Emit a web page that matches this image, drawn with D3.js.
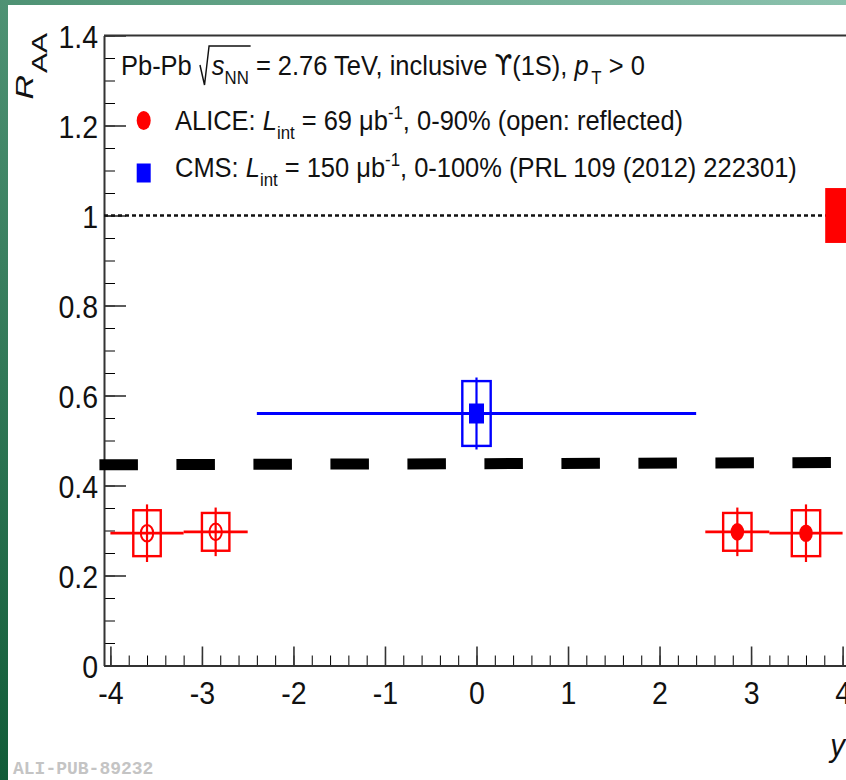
<!DOCTYPE html>
<html>
<head>
<meta charset="utf-8">
<script src="https://cdn.jsdelivr.net/npm/d3@7"></script>
<style>
  html, body { margin: 0; padding: 0; background: #fff; }
  svg { display: block; }
</style>
</head>
<body>
<svg id="chart" width="846" height="780"></svg>
<script>
// ---- values ----
var xTicks = [-4, -3, -2, -1, 0, 1, 2, 3, 4];
var xTickLabels = ["-4", "-3", "-2", "-1", "0", "1", "2", "3", "4"];
var yTicks = [0, 0.2, 0.4, 0.6, 0.8, 1, 1.2, 1.4];
var yTickLabels = ["0", "0.2", "0.4", "0.6", "0.8", "1", "1.2", "1.4"];

// ALICE, forward rapidity (drawn again mirrored at negative y, open markers)
var aliceY    = [2.85, 3.6];
var aliceYlo  = [2.5, 3.2];
var aliceYhi  = [3.2, 4.0];
var aliceRaa  = [0.297, 0.294];
var aliceStat = [0.054, 0.064];
var aliceSyst = [0.042, 0.051];

// CMS, |y| < 2.4
var cmsY    = [0];
var cmsYlo  = [-2.4];
var cmsYhi  = [2.4];
var cmsRaa  = [0.56];
var cmsStat = [0.08];
var cmsSyst = [0.072];

// global uncertainty box at unity and the thick dashed level
var globalUnc = 0.061;
var globalBoxX = [3.81, 4.07];
var dashedLevel = [[-4.12, 0.446], [4.07, 0.451]];

// ---- layout ----
var font = "'Liberation Sans', Arial, Helvetica, sans-serif";
var sqzTick = 0.92;   // picture is squeezed sideways
var sqzText = 0.91;

var svg = d3.select("#chart");

// slide background
var defs = svg.append("defs");
var grad = defs.append("linearGradient")
    .attr("id", "bg")
    .attr("gradientUnits", "userSpaceOnUse")
    .attr("x1", 0).attr("y1", 780).attr("x2", 846).attr("y2", 0);
grad.append("stop").attr("offset", "0").attr("stop-color", "#115c38");
grad.append("stop").attr("offset", "0.55").attr("stop-color", "#5a9c7f");
grad.append("stop").attr("offset", "1").attr("stop-color", "#8cc2ae");
svg.append("rect").attr("width", 846).attr("height", 780).attr("fill", "url(#bg)");
svg.append("rect").attr("x", 8).attr("y", 5).attr("width", 838).attr("height", 775).attr("fill", "#fff");

var x = d3.scaleLinear().domain([-4.07, 4.07]).range([104, 849]);
var y = d3.scaleLinear().domain([0, 1.4]).range([665.5, 35.5]);

var xMinor = d3.range(-40, 41, 2).map(function(d) { return d / 10; });
var yMinor = d3.range(0, 29).map(function(d) { return d * 0.05; });

// minor ticks
svg.append("g")
    .attr("transform", "translate(0," + y(0) + ")")
    .call(d3.axisBottom(x).tickValues(xMinor).tickFormat("").tickSize(-10).tickSizeOuter(0))
    .call(function(g) { g.select(".domain").remove(); });
svg.append("g")
    .attr("transform", "translate(" + x(-4.07) + ",0)")
    .call(d3.axisLeft(y).tickValues(yMinor).tickFormat("").tickSize(-11).tickSizeOuter(0))
    .call(function(g) { g.select(".domain").remove(); });

// major ticks and labels
var xAxis = svg.append("g")
    .attr("transform", "translate(0," + y(0) + ")")
    .call(d3.axisBottom(x).tickValues(xTicks)
        .tickFormat(function(d, i) { return xTickLabels[i]; })
        .tickSize(-19).tickSizeOuter(0).tickPadding(16));
var yAxis = svg.append("g")
    .attr("transform", "translate(" + x(-4.07) + ",0)")
    .call(d3.axisLeft(y).tickValues(yTicks)
        .tickFormat(function(d, i) { return yTickLabels[i]; })
        .tickSize(-22).tickSizeOuter(0).tickPadding(6.5));

[xAxis, yAxis].forEach(function(a) {
    a.attr("color", "#333");
    a.select(".domain").attr("stroke-width", 2);
    a.selectAll(".tick line").attr("stroke-width", 1.6);
    a.selectAll(".tick text")
        .attr("fill", "#111")
        .attr("transform", "scale(" + sqzTick + ",1)")
        .style("font-family", font)
        .style("font-size", "31px");
});
yAxis.selectAll(".tick text").attr("dy", "0.4em");

// top frame
svg.append("line")
    .attr("x1", x(-4.07)).attr("x2", x(4.07))
    .attr("y1", y(1.4)).attr("y2", y(1.4))
    .attr("stroke", "#333").attr("stroke-width", 2);

// dotted unity line
svg.append("line")
    .attr("x1", x(-4.07)).attr("x2", x(4.07))
    .attr("y1", y(1)).attr("y2", y(1))
    .attr("stroke", "#111").attr("stroke-width", 2.4)
    .attr("stroke-dasharray", "4,3");

// global uncertainty
svg.append("rect")
    .attr("x", x(globalBoxX[0])).attr("width", x(globalBoxX[1]) - x(globalBoxX[0]))
    .attr("y", y(1 + globalUnc)).attr("height", y(1 - globalUnc) - y(1 + globalUnc))
    .attr("fill", "#ff0000");

// thick dashed level
svg.append("path")
    .attr("d", d3.line().x(function(d) { return x(d[0]); }).y(function(d) { return y(d[1]); })(dashedLevel))
    .attr("fill", "none").attr("stroke", "#000").attr("stroke-width", 11)
    .attr("stroke-dasharray", "38.5,38.5");

// points with errors
function drawSeries(pos, lo, hi, val, stat, syst, halfW, color, marker) {
    var g = svg.append("g");
    pos.forEach(function(p, i) {
        var px = x(p), py = y(val[i]);
        g.append("rect")
            .attr("x", x(p - halfW)).attr("width", x(p + halfW) - x(p - halfW))
            .attr("y", y(val[i] + syst[i])).attr("height", y(val[i] - syst[i]) - y(val[i] + syst[i]))
            .attr("fill", "none").attr("stroke", color).attr("stroke-width", 2.4);
        g.append("line")
            .attr("x1", x(lo[i])).attr("x2", x(hi[i])).attr("y1", py).attr("y2", py)
            .attr("stroke", color).attr("stroke-width", 2.8);
        g.append("line")
            .attr("x1", px).attr("x2", px)
            .attr("y1", y(val[i] + stat[i])).attr("y2", y(val[i] - stat[i]))
            .attr("stroke", color).attr("stroke-width", 2.2);
        if (marker === "square") {
            g.append("rect").attr("x", px - 7.5).attr("y", py - 10)
                .attr("width", 15).attr("height", 20).attr("fill", color);
        } else {
            g.append("ellipse").attr("cx", px).attr("cy", py)
                .attr("rx", marker === "open" ? 6.2 : 6.8).attr("ry", marker === "open" ? 8.3 : 8.8)
                .attr("fill", marker === "open" ? "none" : color)
                .attr("stroke", color).attr("stroke-width", marker === "open" ? 2 : 0);
        }
    });
}

drawSeries(cmsY, cmsYlo, cmsYhi, cmsRaa, cmsStat, cmsSyst, 0.155, "#0000ff", "square");
drawSeries(aliceY, aliceYlo, aliceYhi, aliceRaa, aliceStat, aliceSyst, 0.155, "#ff0000", "filled");
drawSeries(aliceY.map(function(d) { return -d; }),
    aliceYhi.map(function(d) { return -d; }),
    aliceYlo.map(function(d) { return -d; }),
    aliceRaa, aliceStat, aliceSyst, 0.15, "#ff0000", "open");

// ---- texts ----
function richText(px, py, size, sx, parts) {
    var g = svg.append("g").attr("transform", "translate(" + px + "," + py + ") scale(" + sx + ",1)");
    var t = g.append("text")
        .style("font-family", font)
        .style("font-size", size + "px")
        .attr("fill", "#111");
    var shift = 0;
    var spans = [];
    parts.forEach(function(p) {
        var s = t.append("tspan").text(p.t);
        var target = p.sub ? size * 0.32 : (p.sup ? -size * 0.4 : 0);
        s.attr("dy", target - shift);
        shift = target;
        if (p.sub || p.sup) s.style("font-size", (size * 0.66) + "px");
        if (p.it) s.style("font-style", "italic");
        if (p.fam) s.style("font-family", p.fam);
        if (p.dx) s.attr("dx", p.dx);
        spans.push(s);
    });
    return { g: g, t: t, spans: spans };
}

var line1 = richText(121, 75, 28, sqzText, [
    { t: "Pb-Pb" },
    { t: "s", it: true, dx: 22 },
    { t: "NN", sub: true },
    { t: " = 2.76 TeV, inclusive " },
    { t: "\u03D2", fam: "'DejaVu Sans', sans-serif" },
    { t: "(1S), " },
    { t: "p", it: true },
    { t: "T", sub: true, dx: 3 },
    { t: " > 0" }
]);
// root-like square root sign over s_NN
(function() {
    var sNode = line1.spans[1].node();
    var nnNode = line1.spans[2].node();
    var s0 = sNode.getStartPositionOfChar(0).x;
    var nnEnd = nnNode.getEndPositionOfChar(1).x;
    line1.g.append("path")
        .attr("d", "M" + (s0 - 13) + ",-10 L" + (s0 - 8) + ",10 L" + (s0 - 3) + ",-29 H" + (nnEnd + 2))
        .attr("fill", "none").attr("stroke", "#111").attr("stroke-width", 1.6);
})();

richText(175, 130, 28, sqzText, [
    { t: "ALICE: " },
    { t: "L", it: true },
    { t: "int", sub: true },
    { t: " = 69 \u03BCb" },
    { t: "-1", sup: true },
    { t: ", 0-90% (open: reflected)" }
]);
richText(175, 177, 28, sqzText, [
    { t: "CMS: " },
    { t: "L", it: true },
    { t: "int", sub: true },
    { t: " = 150 \u03BCb" },
    { t: "-1", sup: true },
    { t: ", 0-100% (PRL 109 (2012) 222301)" }
]);

// legend markers
svg.append("ellipse").attr("cx", 143.7).attr("cy", 120.5).attr("rx", 7).attr("ry", 9.5).attr("fill", "#ff0000");
svg.append("rect").attr("x", 136.7).attr("y", 163.5).attr("width", 14).attr("height", 19).attr("fill", "#0000ff");

// axis titles
var yTitle = svg.append("text")
    .attr("transform", "translate(33,33) rotate(-90) scale(1,0.72)")
    .attr("text-anchor", "end")
    .style("font-family", font)
    .style("font-size", "34px")
    .attr("fill", "#111");
yTitle.append("tspan").style("font-style", "italic").text("R");
yTitle.append("tspan").attr("dy", 19).attr("dx", 2).style("font-size", "30px").text("AA");

svg.append("text")
    .attr("transform", "translate(845,756) scale(" + sqzTick + ",1)")
    .attr("text-anchor", "end")
    .style("font-family", font)
    .style("font-size", "32px")
    .style("font-style", "italic")
    .attr("fill", "#111")
    .text("y");

// figure id
svg.append("text")
    .attr("x", 13).attr("y", 774)
    .style("font-family", "'Liberation Mono', 'DejaVu Sans Mono', monospace")
    .style("font-size", "18px")
    .style("font-weight", "bold")
    .attr("fill", "#c4c4c4")
    .text("ALI-PUB-89232");
</script>
</body>
</html>
